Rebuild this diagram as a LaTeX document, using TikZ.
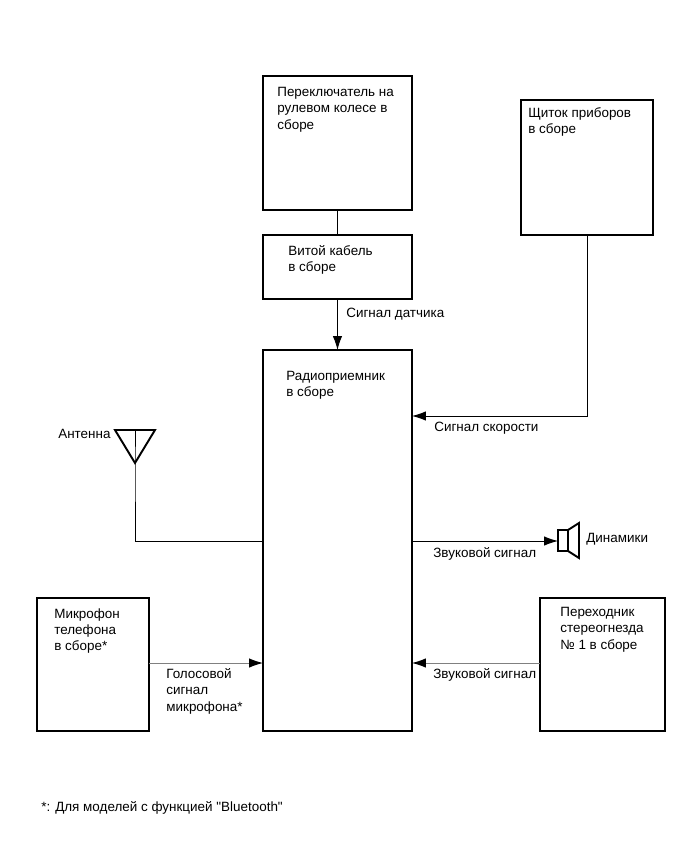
\documentclass[tikz,border=0pt]{standalone}
\usepackage{fontspec}
\setmainfont{Liberation Sans}[Ligatures=TeXOff]
\usepackage{tikz}
\usetikzlibrary{arrows.meta}
\tikzset{
    blok/.style={draw,line width=1.1pt,anchor=north west,outer sep=0pt,inner sep=0pt},
    txt/.style={anchor=north west,align=left,inner sep=0pt,font=\fontsize{7.65}{9.3}\selectfont},
    svyaz/.style={line width=0.55pt},
    signal/.style={svyaz,-{Latex[length=0.28cm,width=0.19cm,color=black]}}
}
\begin{document}
\begin{tikzpicture}[x=0.02cm,y=-0.02cm]
            \useasboundingbox (0,0) rectangle (690,854);

            \node[blok,minimum width=2.98cm,minimum height=2.68cm] (rul) at (263,76) {};
            \node[blok,minimum width=2.98cm,minimum height=1.28cm] (kabel) at (263,235) {};
            \node[blok,minimum width=2.98cm,minimum height=7.62cm] (radio) at (263,350) {};
            \node[blok,minimum width=2.64cm,minimum height=2.70cm] (shchitok) at (521,100) {};
            \node[blok,minimum width=2.24cm,minimum height=2.66cm] (mikrofon) at (37,598) {};
            \node[blok,minimum width=2.50cm,minimum height=2.66cm] (perehodnik) at (540,598) {};

            \coordinate (radioS) at (radio.east|-0,416);
            \coordinate (radioD) at (radio.east|-0,541);
            \coordinate (radioA) at (radio.west|-0,541);
            \coordinate (radioM) at (radio.west|-0,663);
            \coordinate (radioP) at (radio.east|-0,663);
            \coordinate (antT) at (135,430);
            \coordinate (antL) at (115,430);
            \coordinate (antR) at (155,430);
            \coordinate (antN) at (135,463);
            \coordinate (dinL) at (558,541);

            \draw[svyaz] (rul.south) -- (kabel.north);
            \draw[signal] (kabel.south) -- (radio.north);
            \draw[signal] (shchitok.south) |- (radioS);
            \draw[signal] (radioD) -- (dinL);
            \draw[svyaz] (antT) -- (antN) |- (radioA);
            \draw[signal,gray] (mikrofon.east|-radioM) -- (radioM);
            \draw[signal,gray] (perehodnik.west|-radioP) -- (radioP);

            % antenna and loudspeaker
            \draw[line width=1.1pt,line join=miter] (antL) -- (antR) -- (antN) -- cycle;
            \draw[line width=1.1pt] (558,530) rectangle (568,551);
            \draw[line width=1.1pt] (568,530) -- (579,523) -- (579,558) -- (568,551);

            \foreach \p/\x/\y/\t in {
                tRul/277/87/{Переключатель на\\рулевом колесе в\\сборе},
                tShchitok/528/107/{Щиток приборов\\в сборе},
                tKabel/288/245/{Витой кабель\\в сборе},
                tDatchik/346/308/{Сигнал датчика},
                tRadio/286/371/{Радиоприемник\\в сборе},
                tSkorost/434/422/{Сигнал скорости},
                tAntenna/58/429/{Антенна},
                tZvuk/433/547/{Звуковой сигнал},
                tDinamiki/586/533/{Динамики},
                tPerehodnik/560/607/{Переходник\\стереогнезда\\№ 1 в сборе},
                tZvukP/433/668/{Звуковой сигнал},
                tMikrofon/54/608/{Микрофон\\телефона\\в сборе*},
                tGolos/166/668/{Голосовой\\сигнал\\микрофона*},
                tSnoska/41/801/{*: Для моделей с функцией "Bluetooth"}} {
                \node[txt] (\p) at (\x,\y) {\t};
            }
        \end{tikzpicture}
\end{document}
